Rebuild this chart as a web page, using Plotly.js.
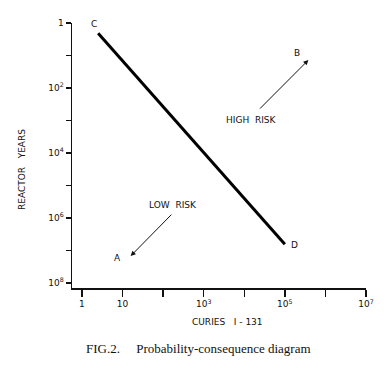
<!DOCTYPE html>
<html>
<head>
<meta charset="utf-8">
<script src="https://cdn.plot.ly/plotly-3.0.1.min.js"></script>
<style>html,body{margin:0;padding:0;background:#fff;}#chart{width:390px;height:368px;}</style>
</head>
<body>
<div id="chart"></div>
<script>
// Line C-D (curies, reactor years)
const lineX = [2.5, 1e5];
const lineY = [0.48, 1.55e-7];

// Axis ticks
const xTickVals = [1, 10, 1e2, 1e3, 1e4, 1e5, 1e6, 1e7];
const xTickText = ['1', '10', '', '10<sup>3</sup>', '', '10<sup>5</sup>', '', '10<sup>7</sup>'];
const yTickVals = [1, 1e-1, 1e-2, 1e-3, 1e-4, 1e-5, 1e-6, 1e-7, 1e-8];
const yTickText = ['1', '', '10<sup>2</sup>', '', '10<sup>4</sup>', '', '10<sup>6</sup>', '', '10<sup>8</sup>'];

// Point labels (log10 coordinates)
const labelText = ['C', 'D', 'B', 'A', 'HIGH  RISK', 'LOW  RISK'];
const labelLogX = [0.29, 5.23, 5.31, 0.88, 4.18, 2.24];
const labelLogY = [-0.03, -6.83, -0.92, -7.23, -2.98, -5.6];

// Arrows: tail -> head (log10 coordinates)
const arrowTailX = [4.35, 2.24];
const arrowTailY = [-2.68, -5.85];
const arrowHeadX = [5.58, 1.20];
const arrowHeadY = [-1.14, -7.17];

const tickFont = {family: 'DejaVu Sans', size: 9, color: '#111'};

const annotations = [];
labelText.forEach((t, i) => {
  annotations.push({x: labelLogX[i], y: labelLogY[i], xref: 'x', yref: 'y', text: t,
    xanchor: 'center', yanchor: 'middle',
    showarrow: false, font: {family: 'DejaVu Sans', size: 9, color: '#111'}});
});
arrowHeadX.forEach((hx, i) => {
  annotations.push({x: hx, y: arrowHeadY[i], xref: 'x', yref: 'y',
    ax: arrowTailX[i], ay: arrowTailY[i], axref: 'x', ayref: 'y',
    text: '', showarrow: true, arrowhead: 2, arrowsize: 1, arrowwidth: 1, arrowcolor: '#111',
    standoff: 0, startstandoff: 0});
});
annotations.push({x: 227, y: 322, xref: 'paper', yref: 'paper', text: 'CURIES&nbsp;&nbsp;&nbsp;I - 131',
  xanchor: 'center', yanchor: 'middle',
  showarrow: false, font: {family: 'DejaVu Sans', size: 9, color: '#111'}});
annotations.push({x: 22, y: 170, xref: 'paper', yref: 'paper', text: 'REACTOR&nbsp;&nbsp;&nbsp;YEARS',
  xanchor: 'center', yanchor: 'middle',
  textangle: -90, showarrow: false, font: {family: 'DejaVu Sans', size: 9, color: '#111'}});
annotations.push({x: 198, y: 348, xref: 'paper', yref: 'paper',
  text: 'FIG.2.&nbsp;&nbsp;&nbsp;&nbsp;&nbsp;Probability-consequence diagram',
  xanchor: 'center', yanchor: 'middle',
  showarrow: false, font: {family: 'Liberation Serif', size: 13, color: '#111'}});

// convert pixel-placed paper annotations
const L = 72, R = 24, T = 23, B = 80, W = 390, H = 368;
annotations.forEach(a => {
  if (a.xref === 'paper') {
    a.x = (a.x - L) / (W - L - R);
    a.y = (H - B - a.y) / (H - T - B);
  }
});

const data = [{
  x: lineX, y: lineY, type: 'scatter', mode: 'lines',
  line: {color: '#000', width: 3}, hoverinfo: 'skip'
}];

const layout = {
  width: W, height: H,
  margin: {l: L, r: R, t: T, b: B},
  paper_bgcolor: '#fff', plot_bgcolor: '#fff',
  showlegend: false,
  xaxis: {
    type: 'log', range: [-0.246, 7], showgrid: false, zeroline: false,
    showline: true, linecolor: '#111', linewidth: 1.5,
    ticks: 'outside', ticklen: 7, tickwidth: 1.3, tickcolor: '#111',
    tickvals: xTickVals, ticktext: xTickText, tickfont: tickFont
  },
  yaxis: {
    type: 'log', range: [-8.154, 0], showgrid: false, zeroline: false,
    showline: true, linecolor: '#111', linewidth: 1.5,
    ticks: 'outside', ticklen: 5, tickwidth: 1.3, tickcolor: '#111',
    tickvals: yTickVals, ticktext: yTickText, tickfont: tickFont
  },
  annotations: annotations
};

Plotly.newPlot('chart', data, layout, {staticPlot: true, displayModeBar: false});
</script>
</body>
</html>
